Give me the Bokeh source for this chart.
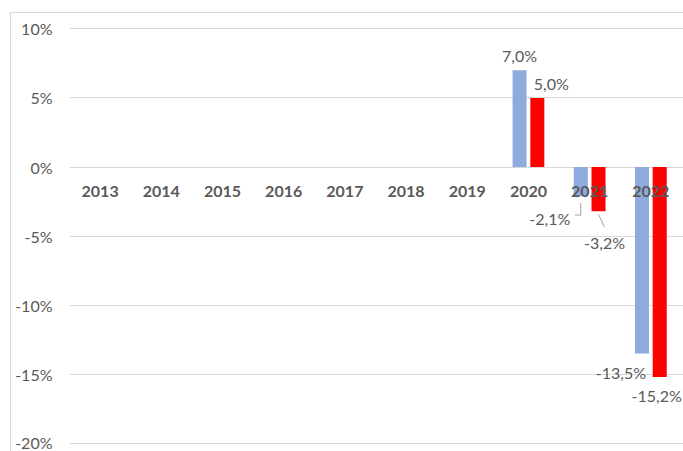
import numpy as np
from bokeh.plotting import figure
from bokeh.models import ColumnDataSource, Range1d, FixedTicker, PrintfTickFormatter
from bokeh.core.properties import value
from bokeh.embed import file_html
from bokeh.resources import INLINE

years = ["2013", "2014", "2015", "2016", "2017", "2018", "2019", "2020", "2021", "2022"]
series_blue = [None, None, None, None, None, None, None, 7.0, -2.1, -13.5]
series_red = [None, None, None, None, None, None, None, 5.0, -3.2, -15.2]
y_ticks = [-20, -15, -10, -5, 0, 5, 10]

BLUE = "#8faadc"
RED = "#ff0000"
GREY_TXT = "#595959"
GRID = "#d9d9d9"
FONT = "Lato"

# label offsets in screen px (x, y) for each bar with a value (2020, 2021, 2022)
blue_off = [(0, -15), (-31, 22), (-21, 19)]
red_off = [(14, -14), (6, 31), (-3, 18)]

W, H = 673, 439
ML, MR, MT, MB = 58, 0, 14, 7
x0, x1 = -0.5, 9.55
y0, y1 = -20.15, 10.1
px_x = (x1 - x0) / (W - ML - MR)
px_y = (y1 - y0) / (H - MT - MB)

p = figure(width=W, height=H, output_backend="svg", toolbar_location=None,
           x_range=Range1d(x0, x1), y_range=Range1d(y0, y1),
           min_border_left=ML, min_border_right=MR, min_border_top=MT, min_border_bottom=MB)
p.margin = (12, 0, 0, 10)
p.styles = {"border-left": "1px solid #d9d9d9", "border-top": "1px solid #d9d9d9"}
p.outline_line_color = None
p.background_fill_color = "white"
p.xaxis.visible = False
p.xgrid.visible = False
p.ygrid.grid_line_color = GRID
p.ygrid.grid_line_width = 1
p.yaxis.ticker = FixedTicker(ticks=y_ticks)
p.yaxis.formatter = PrintfTickFormatter(format="%d%%")
p.yaxis.axis_line_color = None
p.yaxis.major_tick_line_color = None
p.yaxis.minor_tick_line_color = None
p.yaxis.major_tick_out = 0
p.yaxis.major_label_standoff = 17
p.yaxis.major_label_text_font = FONT
p.yaxis.major_label_text_font_size = "16px"
p.yaxis.major_label_text_color = GREY_TXT

idx = np.arange(len(years), dtype=float)
vb = np.array([np.nan if v is None else v for v in series_blue], dtype=float)
vr = np.array([np.nan if v is None else v for v in series_red], dtype=float)
dx, bw = 0.145, 0.229

mb = ~np.isnan(vb)
mr = ~np.isnan(vr)
src_b = ColumnDataSource(dict(x=idx[mb] - dx, top=vb[mb]))
src_r = ColumnDataSource(dict(x=idx[mr] + dx, top=vr[mr]))
p.vbar(x="x", top="top", bottom=0, width=bw, source=src_b, fill_color=BLUE, line_color=None)
p.vbar(x="x", top="top", bottom=0, width=bw, source=src_r, fill_color=RED, line_color=None)

# category labels just below zero line
p.text(x=idx, y=np.zeros(len(years)), text=years, text_align="center", text_baseline="middle",
       y_offset=24, text_font=value(FONT), text_font_style="bold", text_font_size="16px",
       text_color=GREY_TXT)

def fmt(v):
    return f"{v:.1f}".replace(".", ",") + "%"

def labels(xs, vals, offs):
    return dict(x=list(xs), y=list(vals), t=[fmt(v) for v in vals],
                xo=[o[0] for o in offs], yo=[o[1] for o in offs])

lb = ColumnDataSource(labels(idx[mb] - dx, vb[mb], blue_off))
lr = ColumnDataSource(labels(idx[mr] + dx, vr[mr], red_off))
for s in (lb, lr):
    p.text(x="x", y="y", text="t", x_offset="xo", y_offset="yo", source=s,
           text_align="center", text_baseline="middle", text_font=value(FONT),
           text_font_size="16px", text_color=GREY_TXT)

# leader lines for 2021 labels
i21 = years.index("2021")
bx, bv = idx[i21] - dx, vb[i21]
rx, rv = idx[i21] + dx, vr[i21]
lead_xs = [[bx - 6 * px_x, bx, bx], [rx, rx + 6 * px_x]]
lead_ys = [[bv - 19 * px_y, bv - 19 * px_y, bv - 7 * px_y], [rv - 3 * px_y, rv - 16 * px_y]]
p.multi_line(xs=lead_xs, ys=lead_ys, line_color="#a6a6a6", line_width=1)

open("out.html", "w").write(file_html(p, INLINE))
